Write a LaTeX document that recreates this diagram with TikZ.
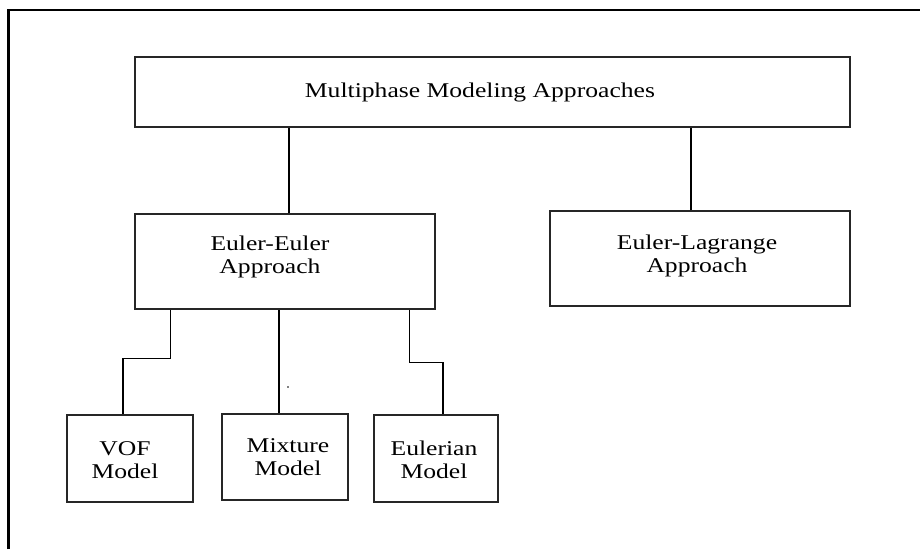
\documentclass[tikz,border=0pt]{standalone}
\usepackage{fontspec}
\setmainfont[FakeStretch=1.22]{Liberation Serif}
\begin{document}
\begin{tikzpicture}[x=1pt,y=-1pt,
  box/.style={draw=black!85,line width=1.4pt,rectangle,inner sep=0pt},
  lbl/.style={inner sep=0pt,align=center,font=\fontsize{21}{23.5}\selectfont},
  wire/.style={draw=black,line width=1.3pt}]
\useasboundingbox (0,0) rectangle (920,549);
\fill[white] (0,0) rectangle (920,549);
% outer frame (top and left edges)
\draw[line width=2.6pt] (8.5,549) -- (8.5,10) -- (920,10);

% boxes
\node[box,minimum width=715pt,minimum height=70pt] (top) at (492.5,92) {};
\node[box,minimum width=300pt,minimum height=95pt] (ee) at (285,261.5) {};
\node[box,minimum width=300pt,minimum height=95pt] (el) at (700,258.5) {};
\node[box,minimum width=126pt,minimum height=87pt] (vof) at (130,458.5) {};
\node[box,minimum width=126pt,minimum height=86pt] (mix) at (285,457) {};
\node[box,minimum width=124pt,minimum height=87pt] (eul) at (436,458.5) {};

% labels
\node[lbl] (topT) at (480,92) {Multiphase Modeling Approaches};
\node[lbl] (eeT) at (270,257) {Euler-Euler\\Approach};
\node[lbl] (elT) at (697,256) {Euler-Lagrange\\Approach};
\node[lbl] (vofT) at (125,460) {VOF\\Model};
\node[lbl] (mixT) at (288,457) {Mixture\\Model};
\node[lbl] (eulT) at (434,460) {Eulerian\\Model};

% connectors
\draw[wire] ([xshift=4pt]ee.north) -- ([xshift=4pt]ee.north |- top.south);
\draw[wire] ([xshift=-9pt]el.north) -- ([xshift=-9pt]el.north |- top.south);
\draw[wire] ([xshift=36pt]ee.south west) -- ++(0,49) -| ([xshift=-7pt]vof.north);
\draw[wire] ([xshift=-6pt]mix.north) -- ([xshift=-6pt]mix.north |- ee.south);
\draw[wire] ([xshift=-26pt]ee.south east) -- ++(0,53) -| ([xshift=7pt]eul.north);

% small stray mark
\fill (288,387) circle (0.9pt);
\end{tikzpicture}
\end{document}
